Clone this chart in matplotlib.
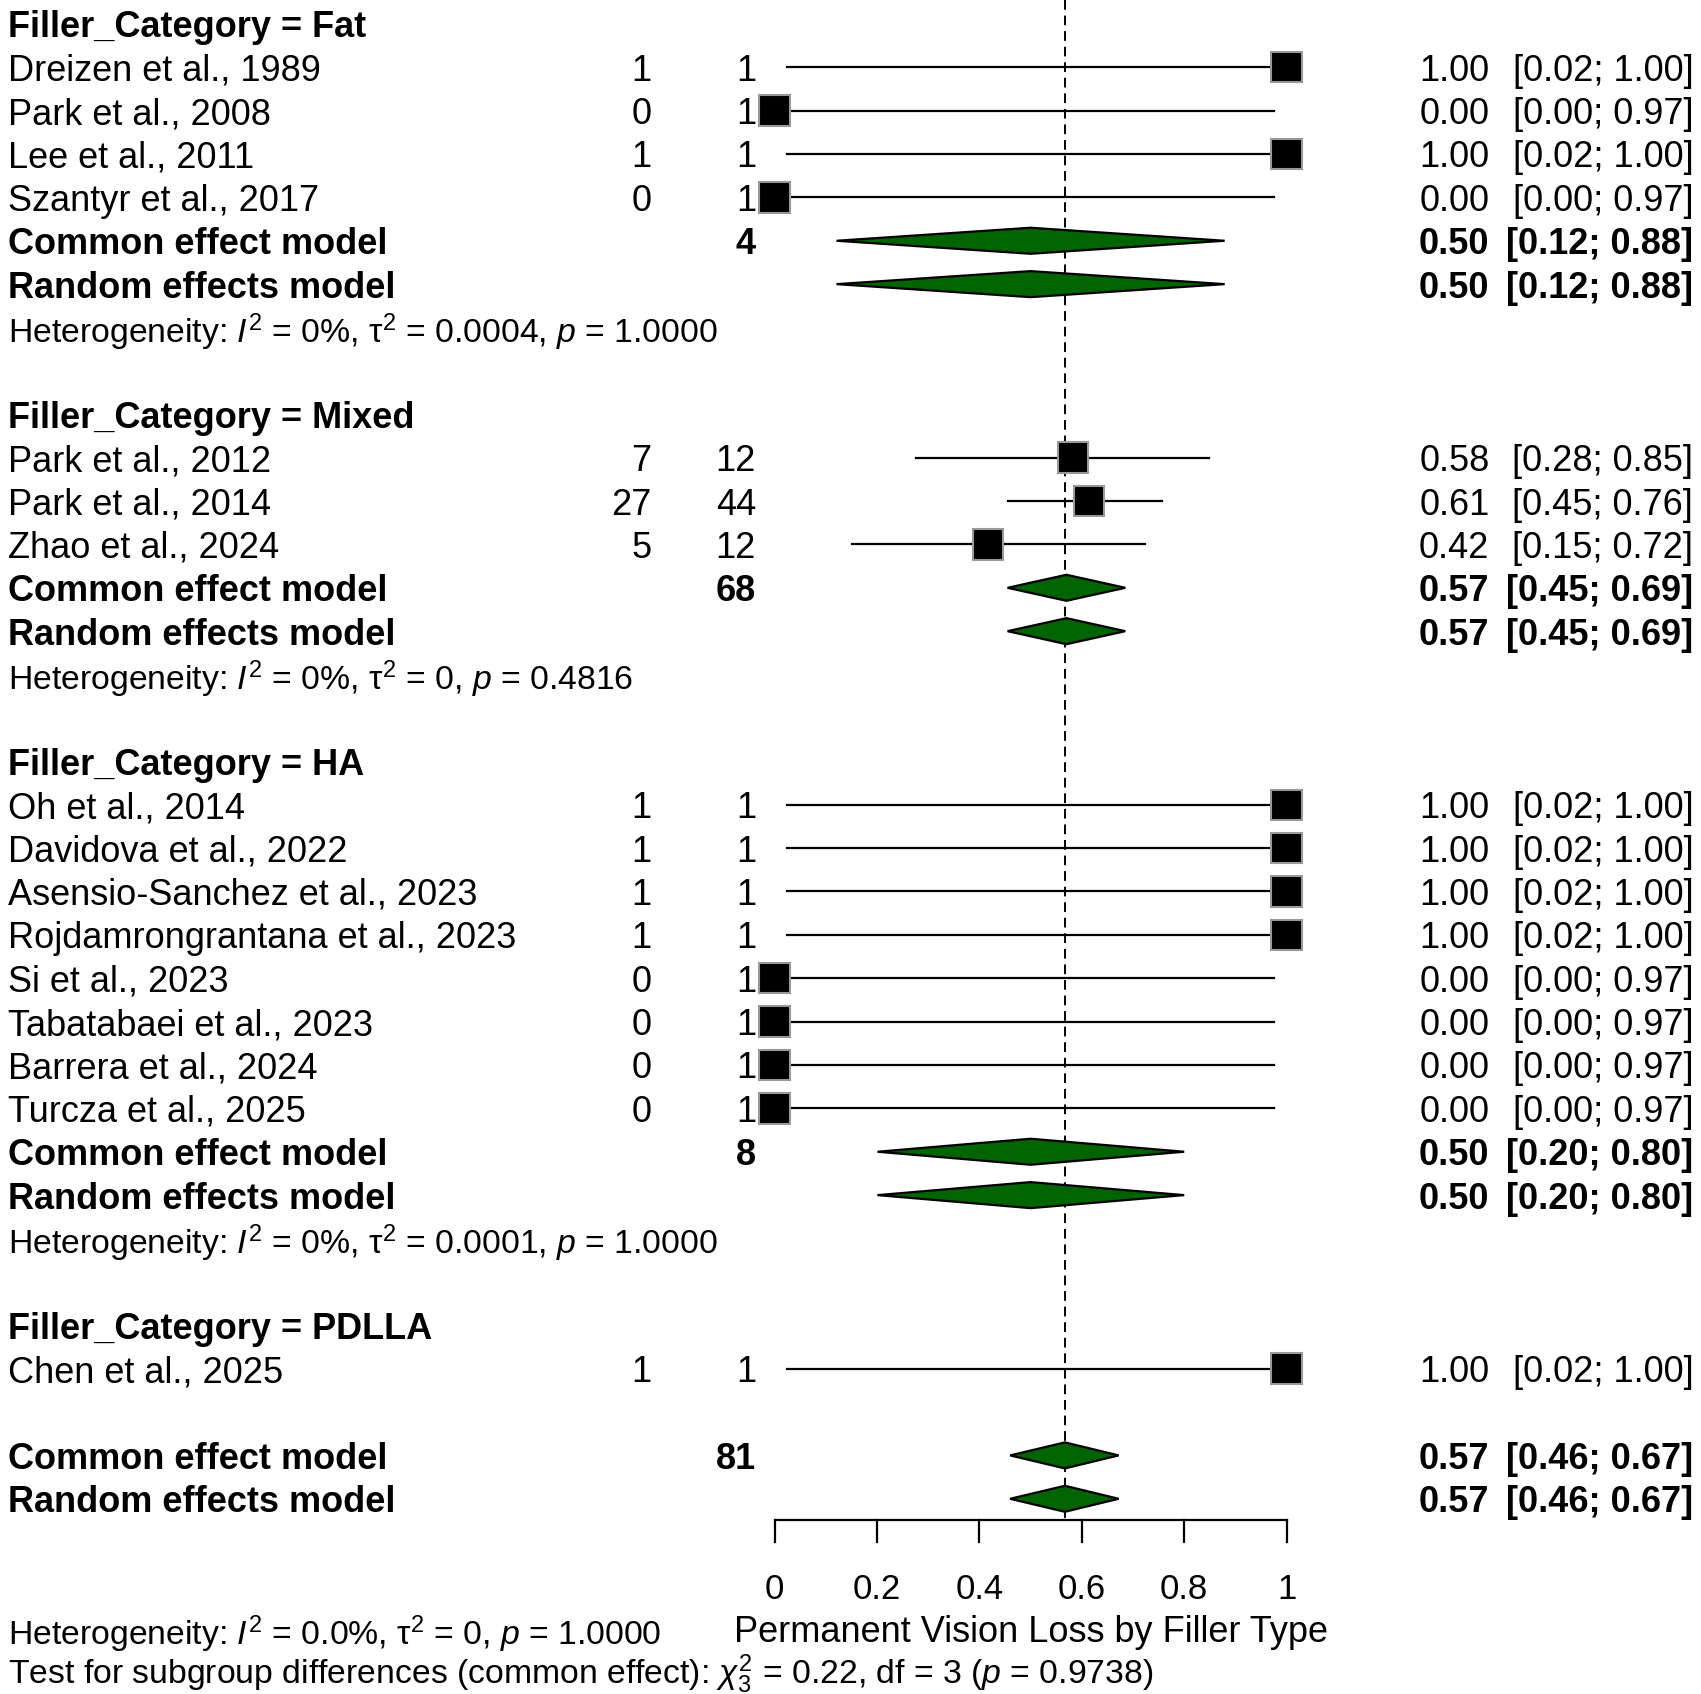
import matplotlib.pyplot as plt
from matplotlib.patches import Polygon, Rectangle

plt.rcParams["font.family"] = ["Liberation Sans", "DejaVu Sans"]
plt.rcParams["mathtext.fontset"] = "custom"
plt.rcParams["mathtext.rm"] = "Liberation Sans"
plt.rcParams["mathtext.it"] = "Liberation Sans:italic"
plt.rcParams["mathtext.bf"] = "Liberation Sans:bold"

# ---- data ----
groups = ["Fat", "Mixed", "HA", "PDLLA"]

study = ["Dreizen et al., 1989", "Park et al., 2008", "Lee et al., 2011", "Szantyr et al., 2017",
         "Park et al., 2012", "Park et al., 2014", "Zhao et al., 2024",
         "Oh et al., 2014", "Davidova et al., 2022", "Asensio-Sanchez et al., 2023",
         "Rojdamrongrantana et al., 2023", "Si et al., 2023", "Tabatabaei et al., 2023",
         "Barrera et al., 2024", "Turcza et al., 2025",
         "Chen et al., 2025"]
study_group = ["Fat"] * 4 + ["Mixed"] * 3 + ["HA"] * 8 + ["PDLLA"]
events = [1, 0, 1, 0, 7, 27, 5, 1, 1, 1, 1, 0, 0, 0, 0, 1]
total = [1, 1, 1, 1, 12, 44, 12, 1, 1, 1, 1, 1, 1, 1, 1, 1]
prop = [1.0, 0.0, 1.0, 0.0, 0.583, 0.614, 0.417, 1.0, 1.0, 1.0, 1.0, 0.0, 0.0, 0.0, 0.0, 1.0]
ci_lo = [0.025, 0.0, 0.025, 0.0, 0.277, 0.455, 0.152, 0.025, 0.025, 0.025, 0.025,
         0.0, 0.0, 0.0, 0.0, 0.025]
ci_hi = [1.0, 0.975, 1.0, 0.975, 0.848, 0.756, 0.723, 1.0, 1.0, 1.0, 1.0,
         0.975, 0.975, 0.975, 0.975, 1.0]
prop_txt = ["1.00", "0.00", "1.00", "0.00", "0.58", "0.61", "0.42", "1.00", "1.00", "1.00",
            "1.00", "0.00", "0.00", "0.00", "0.00", "1.00"]
ci_txt = ["[0.02; 1.00]", "[0.00; 0.97]", "[0.02; 1.00]", "[0.00; 0.97]",
          "[0.28; 0.85]", "[0.45; 0.76]", "[0.15; 0.72]",
          "[0.02; 1.00]", "[0.02; 1.00]", "[0.02; 1.00]", "[0.02; 1.00]",
          "[0.00; 0.97]", "[0.00; 0.97]", "[0.00; 0.97]", "[0.00; 0.97]",
          "[0.02; 1.00]"]

# subgroup pooled results (common == random here); PDLLA has no pooled row
sub_total = [4, 68, 8, None]
sub_est = [0.50, 0.57, 0.50, None]
sub_lo = [0.121, 0.455, 0.201, None]
sub_hi = [0.879, 0.685, 0.800, None]
sub_est_txt = ["0.50", "0.57", "0.50", None]
sub_ci_txt = ["[0.12; 0.88]", "[0.45; 0.69]", "[0.20; 0.80]", None]
sub_het = [r"Heterogeneity: $I^2$ = 0%, τ$^2$ = 0.0004, $p$ = 1.0000",
           r"Heterogeneity: $I^2$ = 0%, τ$^2$ = 0, $p$ = 0.4816",
           r"Heterogeneity: $I^2$ = 0%, τ$^2$ = 0.0001, $p$ = 1.0000",
           None]

overall_total = 81
overall_est = 0.567
overall_lo = 0.460
overall_hi = 0.672
overall_txt = "0.57"
overall_ci_txt = "[0.46; 0.67]"
overall_het = r"Heterogeneity: $I^2$ = 0.0%, τ$^2$ = 0, $p$ = 1.0000"
subgroup_test = r"Test for subgroup differences (common effect): $\chi^2_3$ = 0.22, df = 3 ($p$ = 0.9738)"

xticks = [0, 0.2, 0.4, 0.6, 0.8, 1]
xtick_labels = ["0", "0.2", "0.4", "0.6", "0.8", "1"]
xlabel = "Permanent Vision Loss by Filler Type"

# ---- layout ----
FS = 26
FS_HET = 24.3
X_LABEL, X_EV, X_TOT, X_EST, X_CI = 0.0045, 0.383, 0.4445, 0.8756, 0.9955
SQ_W, SQ_H = 0.0593, 0.7
DIA_H = 0.3
GREEN = "#006400"

fig = plt.figure(figsize=(17.01, 16.94), dpi=100)
ax = fig.add_axes([0, 0, 1, 1])
ax.set_xlim(-1.5127, 1.8093)
ax.set_ylim(38.5, -0.55)
ax.axis("off")
tr = ax.get_yaxis_transform()


def put(x, y, s, ha="left", bold=False, size=FS):
    ax.text(x, y, s, transform=tr, ha=ha, va="center_baseline", fontsize=size,
            fontweight="bold" if bold else "normal")


def diamond(y, est, lo, hi):
    ax.add_patch(Polygon([(lo, y), (est, y - DIA_H), (hi, y), (est, y + DIA_H)],
                         closed=True, facecolor=GREEN, edgecolor="black", lw=1.6, zorder=3))


def pooled_rows(row, n, est, lo, hi, est_txt, ci_t):
    for k, name in enumerate(["Common effect model", "Random effects model"]):
        y = row + k
        put(X_LABEL, y, name, bold=True)
        if k == 0:
            put(X_TOT, y, str(n), ha="right", bold=True)
        diamond(y, est, lo, hi)
        put(X_EST, y, est_txt, ha="right", bold=True)
        put(X_CI, y, ci_t, ha="right", bold=True)


row = 0
for g, grp in enumerate(groups):
    put(X_LABEL, row, f"Filler_Category = {grp}", bold=True)
    row += 1
    for i in [j for j, sg in enumerate(study_group) if sg == grp]:
        put(X_LABEL, row, study[i])
        put(X_EV, row, str(events[i]), ha="right")
        put(X_TOT, row, str(total[i]), ha="right")
        ax.plot([ci_lo[i], ci_hi[i]], [row, row], color="black", lw=1.6, zorder=2)
        ax.add_patch(Rectangle((prop[i] - SQ_W / 2, row - SQ_H / 2), SQ_W, SQ_H,
                               facecolor="black", edgecolor="#999999", lw=1.5, zorder=3))
        put(X_EST, row, prop_txt[i], ha="right")
        put(X_CI, row, ci_txt[i], ha="right")
        row += 1
    if sub_total[g] is not None:
        pooled_rows(row, sub_total[g], sub_est[g], sub_lo[g], sub_hi[g],
                    sub_est_txt[g], sub_ci_txt[g])
        row += 2
        put(X_LABEL, row, sub_het[g], size=FS_HET)
        row += 1
    row += 1

pooled_rows(row, overall_total, overall_est, overall_lo, overall_hi,
            overall_txt, overall_ci_txt)
row += 1

# reference line at the pooled estimate
ax.plot([overall_est, overall_est], [-0.55, row + 0.45], color="black", lw=1.4,
        linestyle=(0, (5, 3)), zorder=1)

# x axis drawn by hand
axis_y = row + 0.5
ax.plot([xticks[0], xticks[-1]], [axis_y, axis_y], color="black", lw=1.6)
for t, lab in zip(xticks, xtick_labels):
    ax.plot([t, t], [axis_y, axis_y + 0.5], color="black", lw=1.6)
    ax.text(t, axis_y + 1.5, lab, ha="center", va="center_baseline", fontsize=25)
ax.text(0.5, axis_y + 2.5, xlabel, ha="center", va="center_baseline", fontsize=FS)

put(X_LABEL, axis_y + 2.5, overall_het, size=FS_HET)
put(X_LABEL, axis_y + 3.4, subgroup_test, size=FS_HET)

fig.savefig("out.png", dpi=100)
